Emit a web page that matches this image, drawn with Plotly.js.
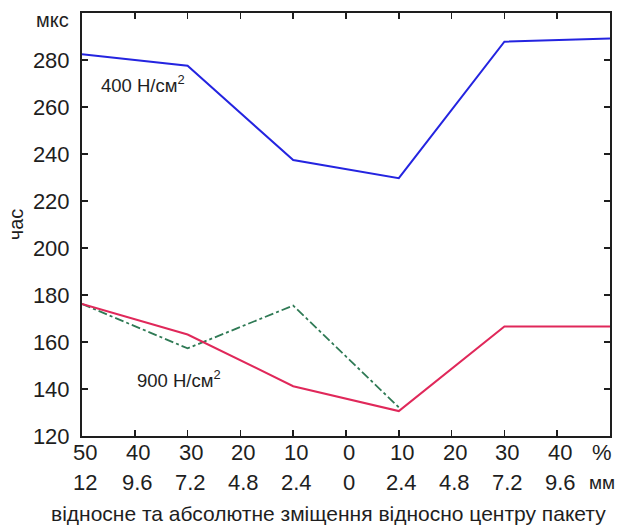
<!DOCTYPE html>
<html>
<head>
<meta charset="utf-8">
<script src="https://cdn.plot.ly/plotly-3.0.1.min.js"></script>
<style>html,body{margin:0;padding:0;background:#fff;}#chart{width:620px;height:526px;}</style>
</head>
<body>
<div id="chart"></div>
<script>
// Data
const xPos = [-50, -30, -10, 10, 30, 50];
const series400 = [282.4, 277.6, 237.4, 229.7, 287.8, 289.1];
const series900 = [176.2, 163.2, 141.2, 130.6, 166.6, 166.6];
const xPosAlt = [-50, -30, -10, 10];
const series900alt = [176.2, 157.3, 175.5, 132.2];
const tickPositions = [-50, -40, -30, -20, -10, 0, 10, 20, 30, 40];
const pctLabels = ['50', '40', '30', '20', '10', '0', '10', '20', '30', '40'];
const mmLabels = ['12', '9.6', '7.2', '4.8', '2.4', '0', '2.4', '4.8', '7.2', '9.6'];
const unitPos = 48.4;
const yTicks = [120, 140, 160, 180, 200, 220, 240, 260, 280];

const FONT = '"Liberation Sans", Arial, sans-serif';
const INK = '#1e1e1e';

const traces = [
  {x: xPosAlt, y: series900alt, mode: 'lines', line: {color: '#2f7a55', width: 1.8, dash: 'dashdot'}, hoverinfo: 'skip'},
  {x: xPos, y: series900, mode: 'lines', line: {color: '#e0285a', width: 2}, hoverinfo: 'skip'},
  {x: xPos, y: series400, mode: 'lines', line: {color: '#2424e0', width: 2}, hoverinfo: 'skip'}
];

const annotations = [];
tickPositions.forEach((p, i) => {
  annotations.push({x: p, y: -0.040, xref: 'x', yref: 'paper', text: pctLabels[i], showarrow: false, xanchor: 'center', yanchor: 'middle', xshift: 3, font: {family: FONT, size: 22, color: INK}});
  annotations.push({x: p, y: -0.111, xref: 'x', yref: 'paper', text: mmLabels[i], showarrow: false, xanchor: 'center', yanchor: 'middle', xshift: 3, font: {family: FONT, size: 22, color: INK}});
});
annotations.push({x: unitPos, y: -0.040, xref: 'x', yref: 'paper', text: '%', showarrow: false, xanchor: 'center', yanchor: 'middle', font: {family: FONT, size: 22, color: INK}});
annotations.push({x: unitPos, y: -0.111, xref: 'x', yref: 'paper', text: 'мм', showarrow: false, xanchor: 'center', yanchor: 'middle', font: {family: FONT, size: 19, color: INK}});
annotations.push({x: -0.02, y: 300, xref: 'paper', yref: 'y', text: 'мкс', showarrow: false, xanchor: 'right', yanchor: 'middle', yshift: -7, font: {family: FONT, size: 20, color: INK}});
annotations.push({x: -46.8, y: 269.7, xref: 'x', yref: 'y', text: '400 Н/см<sup>2</sup>', showarrow: false, xanchor: 'left', yanchor: 'middle', font: {family: FONT, size: 18.5, color: INK}});
annotations.push({x: -40.0, y: 144.2, xref: 'x', yref: 'y', text: '900 Н/см<sup>2</sup>', showarrow: false, xanchor: 'left', yanchor: 'middle', font: {family: FONT, size: 18.5, color: INK}});
annotations.push({x: 0.466, y: -0.184, xref: 'paper', yref: 'paper', text: 'відносне та абсолютне зміщення відносно центру пакету', showarrow: false, xanchor: 'center', yanchor: 'middle', font: {family: FONT, size: 21, color: INK}});

const layout = {
  width: 620, height: 526,
  margin: {l: 82, r: 10, t: 13, b: 90},
  paper_bgcolor: '#fff', plot_bgcolor: '#fff',
  showlegend: false,
  xaxis: {
    range: [-50, 50], tickvals: tickPositions.concat([50]), showticklabels: false,
    ticks: 'inside', ticklen: 6, tickwidth: 1.5, tickcolor: INK,
    showline: true, linewidth: 2, linecolor: INK, mirror: 'ticks',
    showgrid: false, zeroline: false,
    automargin: false
  },
  yaxis: {
    range: [120, 300], tickvals: yTicks, ticktext: yTicks.map(String),
    ticks: 'inside', ticklen: 6, tickwidth: 1.5, tickcolor: INK,
    tickfont: {family: FONT, size: 22, color: INK},
    ticklabelstandoff: 6,
    showline: true, linewidth: 2, linecolor: INK, mirror: 'ticks',
    showgrid: false, zeroline: false,
    title: {text: 'час', font: {family: FONT, size: 20, color: INK}, standoff: 4},
    automargin: false
  },
  annotations: annotations
};

Plotly.newPlot('chart', traces, layout, {displayModeBar: false, staticPlot: true});
</script>
</body>
</html>
